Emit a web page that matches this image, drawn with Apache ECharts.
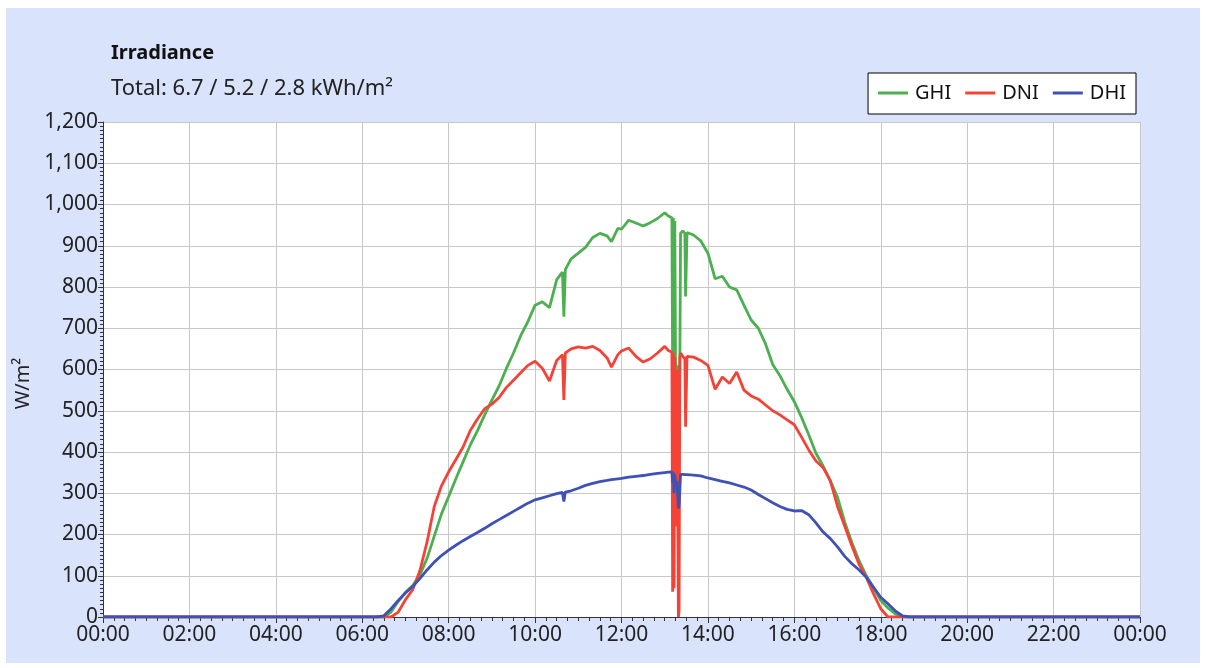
<!DOCTYPE html>
<html>
<head>
<meta charset="utf-8">
<script src="https://cdn.jsdelivr.net/npm/echarts@6/dist/echarts.min.js"></script>
<style>
html,body{margin:0;padding:0;background:#fff;}
#chart{width:1206px;height:668px;}
</style>
</head>
<body>
<div id="chart"></div>
<script>
// ---- data ----
const times = ["00:00","06:20","06:30","06:40","06:50","07:00","07:10","07:20","07:30","07:40","07:50",
"08:00","08:10","08:20","08:30","08:40","08:50","09:00","09:10","09:20","09:30","09:40","09:50",
"10:00","10:10","10:20","10:30","10:38","10:40","10:42","10:50","11:00","11:10","11:20","11:30","11:40","11:46","11:55",
"12:00","12:10","12:20","12:30","12:40","12:50","13:00","13:05","13:10","13:11","13:12","13:13","13:14","13:15","13:17",
"13:19","13:20","13:21","13:22","13:25","13:28","13:29","13:31","13:40","13:50",
"14:00","14:10","14:20","14:30","14:40","14:50","15:00","15:10","15:20","15:30","15:40","15:50",
"16:00","16:10","16:20","16:30","16:40","16:50","17:00","17:10","17:20","17:30","17:40","17:50",
"18:00","18:10","18:20","18:30","18:40","24:00"];
const ghi = [0,0,0,12,38,60,76,102,142,196,250,
292,335,376,417,452,490,526,560,602,640,682,716,
756,764,750,818,836,728,842,868,882,896,920,930,924,910,942,
940,962,955,948,956,966,980,972,968,600,968,600,960,620,590,
600,610,600,930,936,930,777,932,926,912,
882,820,826,800,793,756,720,700,662,612,585,552,
522,484,442,397,366,330,290,230,180,136,100,70,
40,22,8,0,0,0];
const dni = [0,0,0,0,12,42,66,112,182,268,318,
352,382,412,452,480,505,516,532,556,574,592,610,
620,603,572,622,636,526,640,650,655,652,656,646,628,606,636,
645,652,632,618,626,640,656,646,642,61,638,70,630,220,600,
0,15,630,640,632,626,461,632,630,622,
610,552,582,566,594,550,536,528,514,500,490,478,
466,436,405,378,362,330,268,220,172,127,96,56,
20,0,0,0,0,0];
const dhi = [0,0,3,20,40,58,74,93,114,133,149,
162,174,185,195,205,215,226,236,246,256,266,276,
284,289,294,299,302,280,303,306,312,319,324,328,331,333,335,
336,339,341,343,346,348,350,351,352,325,350,300,345,320,330,
263,272,305,346,346,345,344,345,344,342,
337,333,329,325,320,315,308,297,287,277,268,261,
257,258,248,228,206,190,170,147,129,114,96,72,
48,32,15,3,0,0];
const xTickLabels = ["00:00","02:00","04:00","06:00","08:00","10:00","12:00","14:00","16:00","18:00","20:00","22:00","00:00"];
const seriesNames = ["GHI","DNI","DHI"];
const titleText = "Irradiance";
const subtitleText = "Total: 6.7 / 5.2 / 2.8 kWh/m²";
const yName = "W/m²";

function toMin(t){const p=t.split(":");return (+p[0])*60+(+p[1]);}
function pairs(vals){return times.map((t,i)=>[toMin(t),vals[i]]);}

const FONT = "'Noto Sans', 'Open Sans', sans-serif";
const FS = 20;
const chart = echarts.init(document.getElementById('chart'), null, {renderer:'canvas'});
const colors = ['#4CAF50','#F44336','#3F51B5'];
chart.setOption({
  backgroundColor:'#ffffff',
  animation:false,
  color: colors,
  textStyle:{fontFamily:FONT},
  graphic:[{type:'rect', z:-10, silent:true, shape:{x:6,y:8,width:1194,height:655}, style:{fill:'#DAE3FC'}}],
  title:[
    {text:titleText, left:106, top:38, textStyle:{fontFamily:FONT, fontSize:20, fontWeight:'bold', color:'#111'}},
    {text:subtitleText, left:106, top:73, textStyle:{fontFamily:FONT, fontSize:22, fontWeight:'normal', color:'#222'}}
  ],
  legend:{
    data:seriesNames, right:70, top:73, orient:'horizontal', icon:'rect',
    backgroundColor:'#fff', borderColor:'#000', borderWidth:1, padding:[10,10,11,10],
    itemWidth:30, itemHeight:3, itemGap:14,
    textStyle:{fontFamily:FONT, fontSize:FS, color:'#111', padding:[0,0,0,2]}
  },
  grid:{left:103, right:66, top:122, bottom:51, show:true, backgroundColor:'#fff', borderWidth:0},
  xAxis:{
    type:'value', min:0, max:1440, interval:120,
    axisLine:{show:true, lineStyle:{color:'#333', width:1}},
    axisTick:{show:true, length:6, lineStyle:{color:'#333'}},
    minorTick:{show:true, splitNumber:8, length:4, lineStyle:{color:'#333'}},
    splitLine:{show:true, lineStyle:{color:'#c8c8c8', width:1}},
    axisLabel:{fontFamily:FONT, fontSize:21, color:'#222', margin:8,
      formatter:v=>xTickLabels[Math.round(v/120)]}
  },
  yAxis:{
    type:'value', min:0, max:1200, interval:100,
    name:yName, nameLocation:'middle', nameGap:63, nameRotate:90,
    nameTextStyle:{fontFamily:FONT, fontSize:FS, color:'#222', padding:[0,28,0,0]},
    axisLine:{show:true, lineStyle:{color:'#333', width:1}},
    axisTick:{show:true, length:5, lineStyle:{color:'#333'}},
    minorTick:{show:true, splitNumber:10, length:3, lineStyle:{color:'#333'}},
    splitLine:{show:true, lineStyle:{color:'#c8c8c8', width:1}},
    axisLabel:{fontFamily:FONT, fontSize:21, color:'#222', margin:5,
      formatter:v=>v.toLocaleString('en-US')}
  },
  series:[
    {name:'GHI', type:'line', data:pairs(ghi), showSymbol:false, symbol:'none', lineStyle:{width:2.8, color:colors[0]}, itemStyle:{color:colors[0]}, z:2},
    {name:'DNI', type:'line', data:pairs(dni), showSymbol:false, symbol:'none', lineStyle:{width:2.8, color:colors[1]}, itemStyle:{color:colors[1]}, z:3},
    {name:'DHI', type:'line', data:pairs(dhi), showSymbol:false, symbol:'none', lineStyle:{width:2.8, color:colors[2]}, itemStyle:{color:colors[2]}, z:4}
  ]
});
</script>
</body>
</html>
